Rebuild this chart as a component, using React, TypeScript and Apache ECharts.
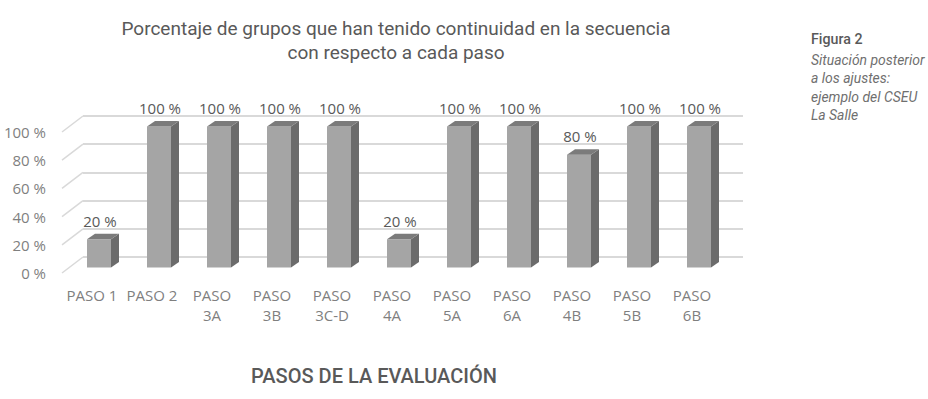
import React, { useEffect, useRef } from "react";
import * as echarts from "echarts";

const categories = [
  "PASO 1",
  "PASO 2",
  "PASO\n3A",
  "PASO\n3B",
  "PASO\n3C-D",
  "PASO\n4A",
  "PASO\n5A",
  "PASO\n6A",
  "PASO\n4B",
  "PASO\n5B",
  "PASO\n6B",
];
const values = [20, 100, 100, 100, 100, 20, 100, 100, 80, 100, 100];
const yTicks = [0, 20, 40, 60, 80, 100];
const titleText = "Porcentaje de grupos que han tenido continuidad en la secuencia\ncon respecto a cada paso";
const axisTitle = "PASOS DE LA EVALUACIÓN";
const figLabel = "Figura 2";
const figNote = ["Situación posterior", "a los ajustes:", "ejemplo del CSEU", "La Salle"];

const FONT = "'Open Sans', sans-serif";
const COND = "Roboto, sans-serif";

export default function App() {
  const ref = useRef<HTMLDivElement>(null);
  useEffect(() => {
    if (!ref.current) return;
    const chart = echarts.init(ref.current, undefined, { renderer: "svg" });
    const DX = -14; // front-face offset from back wall
    const DY = 10.5;
    const option: any = {
      animation: false,
      backgroundColor: "#ffffff",
      grid: [
        { left: 83, top: 116, width: 660, height: 141 },
        { left: 62, top: 132, width: 660, height: 141 },
      ],
      xAxis: [
        { gridIndex: 0, type: "category", data: categories, show: false },
        {
          gridIndex: 1,
          type: "category",
          data: categories,
          axisLine: { show: false },
          axisTick: { show: false },
          axisLabel: {
            interval: 0,
            color: "#7f7f7f",
            fontFamily: FONT,
            fontSize: 15,
            lineHeight: 20,
            margin: 12,
          },
        },
      ],
      yAxis: [
        {
          gridIndex: 0,
          type: "value",
          min: 0,
          max: 100,
          interval: 20,
          axisLabel: { show: false },
          axisLine: { show: false },
          axisTick: { show: false },
          splitLine: { lineStyle: { color: "#d9d9d9", width: 2 } },
        },
        {
          gridIndex: 1,
          type: "value",
          min: 0,
          max: 100,
          interval: 20,
          axisLine: { show: false },
          axisTick: { show: false },
          splitLine: { show: false },
          axisLabel: {
            formatter: "{value} %",
            margin: 16,
            color: "#7f7f7f",
            fontFamily: FONT,
            fontSize: 15,
          },
        },
      ],
      series: [
        {
          type: "custom",
          xAxisIndex: 0,
          yAxisIndex: 0,
          z: 1,
          silent: true,
          data: yTicks.map((v) => [0, v]),
          renderItem: (params: any, api: any) => {
            const p = api.coord([0, api.value(1)]);
            const x0 = params.coordSys.x;
            return {
              type: "line",
              shape: { x1: x0, y1: p[1], x2: x0 - 21, y2: p[1] + 16 },
              style: { stroke: "#d9d9d9", lineWidth: 1.5 },
            };
          },
        },
        {
          type: "custom",
          xAxisIndex: 0,
          yAxisIndex: 0,
          z: 3,
          data: values.map((v, i) => [i, v]),
          renderItem: (params: any, api: any) => {
            const top = api.coord([api.value(0), api.value(1)]);
            const bot = api.coord([api.value(0), 0]);
            const w = api.size([1, 0])[0] * 0.4;
            const cx = top[0] + DX;
            const yt = top[1] + DY;
            const yb = bot[1] + DY;
            const l = cx - w / 2;
            const r = cx + w / 2;
            const dx = 8;
            const dy = -5.5;
            return {
              type: "group",
              children: [
                {
                  type: "polygon",
                  shape: { points: [[r, yt], [r + dx, yt + dy], [r + dx, yb + dy], [r, yb]] },
                  style: { fill: "#6b6b6b" },
                },
                {
                  type: "rect",
                  shape: { x: l, y: yt, width: w, height: yb - yt },
                  style: { fill: "#a5a5a5" },
                },
                {
                  type: "polygon",
                  shape: { points: [[l, yt], [r, yt], [r + dx, yt + dy], [l + dx, yt + dy]] },
                  style: { fill: "#7b7b7b" },
                },
                {
                  type: "text",
                  x: cx + 1,
                  y: yt - 18.5,
                  style: {
                    text: api.value(1) + " %",
                    textAlign: "center",
                    textVerticalAlign: "middle",
                    fill: "#595959",
                    font: `15px ${FONT}`,
                  },
                },
              ],
            };
          },
        },
      ],
      graphic: [
        {
          type: "text",
          x: 396,
          y: 40,
          style: {
            text: titleText,
            textAlign: "center",
            textVerticalAlign: "middle",
            fill: "#595959",
            font: `19px ${COND}`,
            lineHeight: 24,
          },
        },
        {
          type: "text",
          x: 374,
          y: 376,
          style: {
            text: axisTitle,
            textAlign: "center",
            textVerticalAlign: "middle",
            fill: "#595959",
            font: `500 20px ${COND}`,
          },
        },
        {
          type: "text",
          x: 811,
          y: 39,
          scaleX: 0.95,
          style: {
            text: figLabel,
            textAlign: "left",
            textVerticalAlign: "middle",
            fill: "#595959",
            font: `500 15px ${COND}`,
          },
        },
        {
          type: "text",
          x: 811,
          y: 88,
          scaleX: 0.93,
          style: {
            text: figNote.join("\n"),
            textAlign: "left",
            textVerticalAlign: "middle",
            fill: "#6f6f6f",
            font: `italic 15px ${COND}`,
            lineHeight: 18.5,
          },
        },
      ],
    };
    chart.setOption(option);
    return () => chart.dispose();
  }, []);
  return (
    <div
      ref={ref}
      style={{ position: "absolute", left: 0, top: 0, width: 928, height: 399 }}
    />
  );
}
